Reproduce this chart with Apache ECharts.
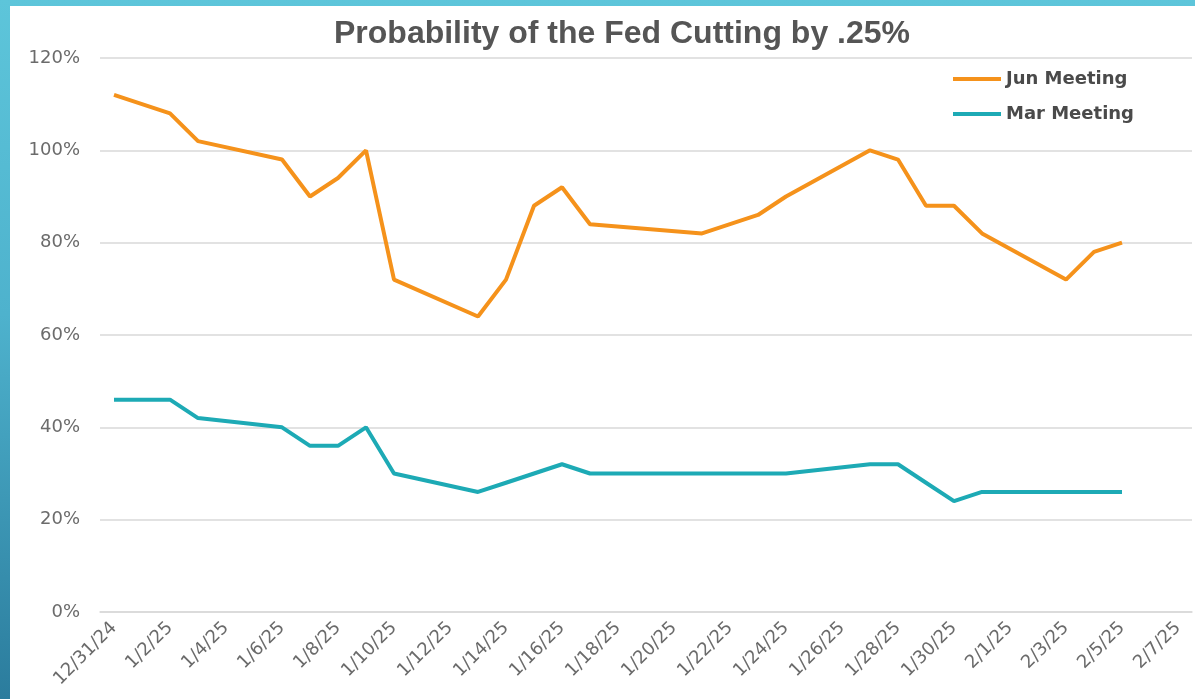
<!DOCTYPE html>
<html>
<head>
<meta charset="utf-8">
<script src="https://cdn.jsdelivr.net/npm/echarts@6/dist/echarts.min.js"></script>
<style>
  html, body { margin: 0; padding: 0; width: 1195px; height: 699px; overflow: hidden; }
  body { background: linear-gradient(to bottom, #5dc5da 0%, #4eb2cd 45%, #2b7c9d 100%); position: relative; }
  #panel { position: absolute; left: 10px; top: 6px; right: 0; bottom: 0; background: #ffffff; }
  #chart { position: absolute; left: 0; top: 0; width: 1195px; height: 699px; }
</style>
</head>
<body>
<div id="panel"></div>
<div id="chart"></div>
<script>
// Axis categories (every calendar day shown on the date axis)
const axisDays = [
  '12/31/24','1/1/25','1/2/25','1/3/25','1/4/25','1/5/25','1/6/25','1/7/25','1/8/25','1/9/25',
  '1/10/25','1/11/25','1/12/25','1/13/25','1/14/25','1/15/25','1/16/25','1/17/25','1/18/25','1/19/25',
  '1/20/25','1/21/25','1/22/25','1/23/25','1/24/25','1/25/25','1/26/25','1/27/25','1/28/25','1/29/25',
  '1/30/25','1/31/25','2/1/25','2/2/25','2/3/25','2/4/25','2/5/25','2/6/25','2/7/25'
];
// Observation dates
const obsDates = [
  '12/31/24','1/2/25','1/3/25','1/6/25','1/7/25','1/8/25','1/9/25','1/10/25','1/13/25','1/14/25',
  '1/15/25','1/16/25','1/17/25','1/21/25','1/23/25','1/24/25','1/27/25','1/28/25','1/29/25','1/30/25',
  '1/31/25','2/3/25','2/4/25','2/5/25'
];
// Probability (%) of a .25% cut
const junMeeting = [112,108,102,98,90,94,100,72,64,72,88,92,84,82,86,90,100,98,88,88,82,72,78,80];
const marMeeting = [46,46,42,40,36,36,40,30,26,28,30,32,30,30,30,30,32,32,28,24,26,26,26,26];
const yTicks = { min: 0, max: 120, step: 20 };
const chartTitle = 'Probability of the Fed Cutting by .25%';
const seriesNames = ['Jun Meeting', 'Mar Meeting'];

const pair = (vals) => obsDates.map((d, i) => [d, vals[i]]);

const chart = echarts.init(document.getElementById('chart'), null, { renderer: 'canvas' });
chart.setOption({
  animation: false,
  backgroundColor: 'transparent',
  title: {
    text: chartTitle,
    left: 617,
    textAlign: 'center',
    top: 13,
    textStyle: { fontFamily: 'Liberation Sans', fontWeight: 'bold', fontSize: 32, color: '#555555' }
  },
  legend: {
    orient: 'vertical',
    left: 948,
    top: 65,
    itemWidth: 48,
    itemHeight: 4,
    itemGap: 17,
    icon: 'rect',
    textStyle: { fontFamily: 'DejaVu Sans', fontWeight: 'bold', fontSize: 18, color: '#4a4a4a' },
    data: seriesNames
  },
  grid: { left: 100, right: 3, top: 58, bottom: 87, outerBoundsMode: 'none', containLabel: false },
  xAxis: {
    type: 'category',
    data: axisDays,
    boundaryGap: true,
    axisLine: { show: true, lineStyle: { color: '#d9d9d9', width: 1.5 } },
    axisTick: { show: false },
    axisLabel: {
      interval: 1,
      rotate: 45,
      margin: 13,
      fontFamily: 'DejaVu Sans',
      fontSize: 18,
      color: '#6b6b6b'
    },
    splitLine: { show: false }
  },
  yAxis: {
    type: 'value',
    min: yTicks.min,
    max: yTicks.max,
    interval: yTicks.step,
    axisLine: { show: false },
    axisTick: { show: false },
    axisLabel: {
      formatter: '{value}%',
      margin: 20,
      fontFamily: 'DejaVu Sans',
      fontSize: 18,
      color: '#6b6b6b'
    },
    splitLine: { lineStyle: { color: '#d9d9d9', width: 1.5 } }
  },
  series: [
    {
      name: seriesNames[0],
      type: 'line',
      data: pair(junMeeting),
      symbol: 'none',
      lineStyle: { color: '#F5921B', width: 4 },
      itemStyle: { color: '#F5921B' }
    },
    {
      name: seriesNames[1],
      type: 'line',
      data: pair(marMeeting),
      symbol: 'none',
      lineStyle: { color: '#1DAAB5', width: 4 },
      itemStyle: { color: '#1DAAB5' }
    }
  ]
});
</script>
</body>
</html>
